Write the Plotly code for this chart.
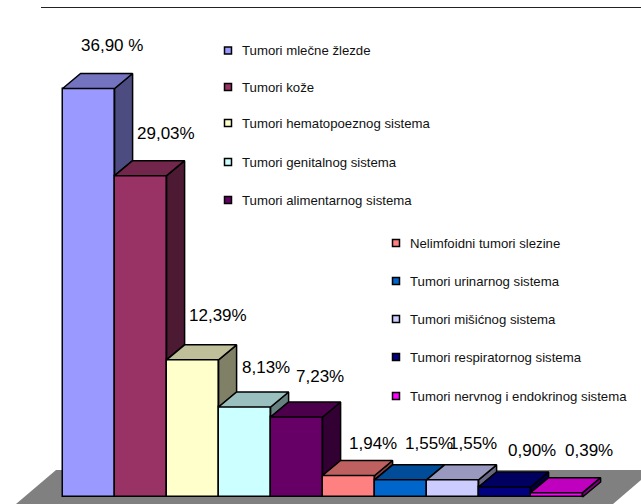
import plotly.graph_objects as go

categories = ["Tumori mlečne žlezde", "Tumori kože", "Tumori hematopoeznog sistema",
              "Tumori genitalnog sistema", "Tumori alimentarnog sistema",
              "Nelimfoidni tumori slezine", "Tumori urinarnog sistema",
              "Tumori mišićnog sistema", "Tumori respiratornog sistema",
              "Tumori nervnog i endokrinog sistema"]
values = [36.90, 29.03, 12.39, 8.13, 7.23, 1.94, 1.55, 1.55, 0.90, 0.39]
value_labels = ["36,90 %", "29,03%", "12,39%", "8,13%", "7,23%",
                "1,94%", "1,55%", "1,55%", "0,90%", "0,39%"]
colors = ["#9999FF", "#993366", "#FFFFCC", "#CCFFFF", "#660066",
          "#FF8080", "#0066CC", "#CCCCFF", "#000080", "#FF00FF"]

# Layout (pixel placement in the 641x504 page)
W, H = 641, 504
BASE_PX, X0_PX, BAR_W_PX, PX_PER_UNIT = 497.0, 88.6, 52.0, 11.07
DEPTH_X_PX, DEPTH_Y_PX = 18.0, 15.0
label_px_x = [111.5, 166, 218, 266, 320, 373, 429, 473, 532, 589]
label_px_y = [45, 133, 315, 367, 376, 443, 443, 443, 450, 450]
legend_px_x = [228] * 5 + [396] * 5
legend_px_y = [50.5, 87, 123, 162, 200, 243, 281, 319, 357, 396]
LEGEND_TEXT_GAP = 12


def px_x(p):
    return (p - X0_PX) / BAR_W_PX


def px_y(p):
    return (BASE_PX - p) / PX_PER_UNIT


def shade(hex_color, k):
    r, g, b = (int(hex_color[i:i + 2], 16) for i in (1, 3, 5))
    return f"rgb({round(r * k)},{round(g * k)},{round(b * k)})"


dx = DEPTH_X_PX / BAR_W_PX
dy = DEPTH_Y_PX / PX_PER_UNIT
LINE = dict(color="black", width=1.5)

fig = go.Figure()
fig.add_trace(go.Bar(
    x=list(range(len(values))), y=values, width=1.0, hovertext=categories,
    hoverinfo="text+y", showlegend=False,
    marker=dict(color=colors, line=LINE),
))

# Pseudo-3D side and top faces, derived from each value
n = len(values)
for i, (v, c) in enumerate(zip(values, colors)):
    r = i + 0.5
    next_v = values[i + 1] if i + 1 < n else 0
    fig.add_trace(go.Scatter(
        x=[r, r + dx, r + dx, r, r], y=[v, v + dy, next_v + dy, next_v, v],
        mode="lines", fill="toself", fillcolor=shade(c, 0.5), line=LINE,
        hoverinfo="skip", showlegend=False,
    ))
for i, (v, c) in enumerate(zip(values, colors)):
    r = i + 0.5
    l = i - 0.5
    fig.add_trace(go.Scatter(
        x=[l, l + dx, r + dx, r, l], y=[v, v + dy, v + dy, v, v],
        mode="lines", fill="toself", fillcolor=shade(c, 0.75), line=LINE,
        hoverinfo="skip", showlegend=False,
    ))

# Legend markers
fig.add_trace(go.Scatter(
    x=[px_x(p) for p in legend_px_x], y=[px_y(p) for p in legend_px_y],
    mode="markers", hovertext=categories, hoverinfo="text", showlegend=False,
    marker=dict(symbol="square", size=7, color=colors, line=dict(color="black", width=1.5)),
))

annotations = []
for txt, lx, ly in zip(value_labels, label_px_x, label_px_y):
    annotations.append(dict(x=px_x(lx), y=px_y(ly), text=txt, showarrow=False,
                            xanchor="center", yanchor="middle",
                            font=dict(size=17, color="black")))
for txt, lx, ly in zip(categories, legend_px_x, legend_px_y):
    annotations.append(dict(x=px_x(lx + LEGEND_TEXT_GAP), y=px_y(ly), text=txt, showarrow=False,
                            xanchor="left", yanchor="middle",
                            font=dict(size=13.2, color="#111111")))

shapes = [
    # Floor
    dict(type="path", layer="below", line=dict(width=0), fillcolor="#808080",
         path=f"M {px_x(16)} {px_y(504)} L {px_x(56)} {px_y(470)} L {px_x(641)} {px_y(470)} "
              f"L {px_x(641)} {px_y(480)} L {px_x(613)} {px_y(504)} Z"),
    # Rule along the top
    dict(type="line", x0=px_x(41), x1=px_x(641), y0=px_y(7.5), y1=px_y(7.5),
         line=dict(color="#222222", width=1)),
]

fig.update_layout(
    width=W, height=H, autosize=False,
    margin=dict(l=0, r=0, t=0, b=0, pad=0),
    paper_bgcolor="white", plot_bgcolor="white",
    font=dict(family="Liberation Sans, Arial, sans-serif"),
    showlegend=False, bargap=0,
    xaxis=dict(range=[px_x(0), px_x(W)], visible=False, fixedrange=True),
    yaxis=dict(range=[px_y(H), px_y(0)], visible=False, fixedrange=True),
    annotations=annotations, shapes=shapes,
)
fig.write_html("out.html", config=dict(displayModeBar=False),
               post_script="document.body.style.margin='0';document.body.style.overflow='hidden';")
